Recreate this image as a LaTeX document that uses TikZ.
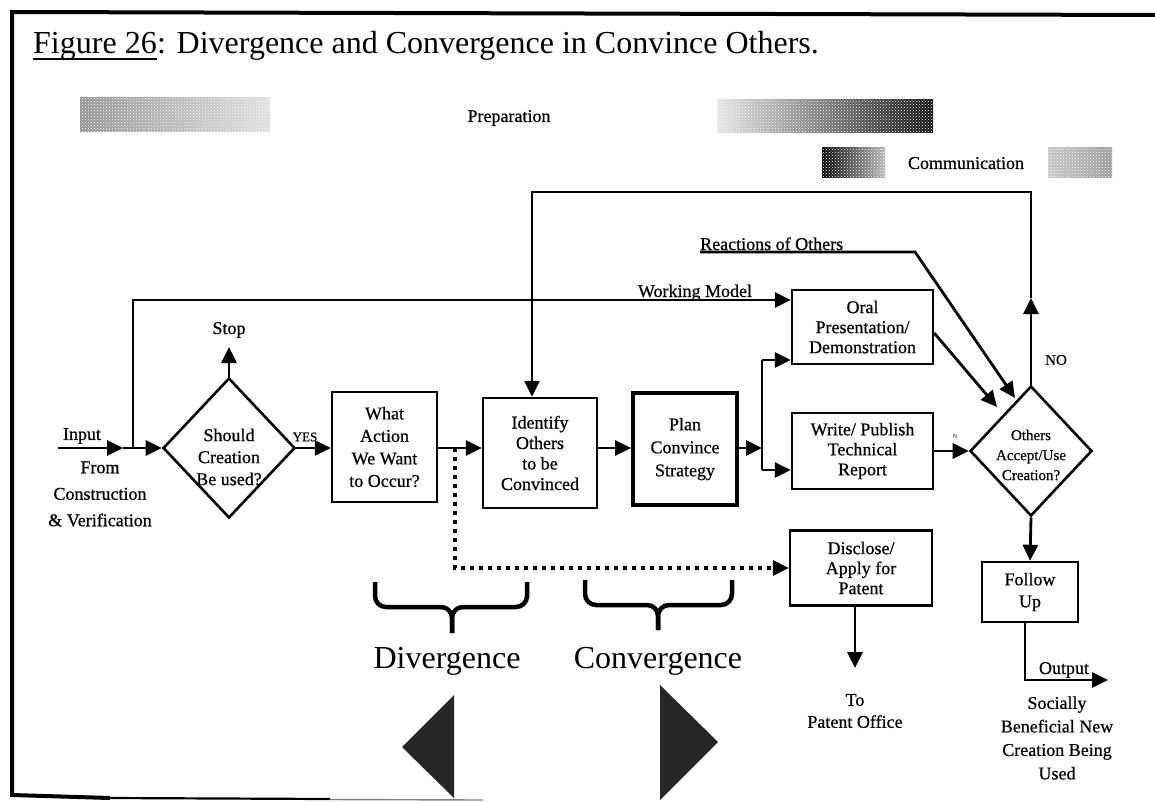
\documentclass[tikz,border=0pt]{standalone}
\usepackage{fontspec}
\setmainfont{Liberation Serif}
\newfontfamily\labelfont[FakeBold=0.6]{Liberation Serif}
\usetikzlibrary{arrows.meta,shapes.geometric,calc,patterns}

\begin{document}
\begin{tikzpicture}[x=1pt,y=-1pt,
  every node/.style={inner sep=0pt},
  txt/.style={font=\labelfont\fontsize{18}{21}\selectfont, align=center},
  small/.style={font=\labelfont\fontsize{15}{20}\selectfont, align=center},
  big/.style={font=\fontsize{32}{38}\selectfont},
  box/.style={draw, line width=2.4pt, align=center, font=\labelfont\fontsize{18}{21}\selectfont},
  dia/.style={draw, diamond, line width=2.6pt},
  conn/.style={line width=2.8pt},
  tip/.style={-{Triangle[length=16pt,width=15pt]}},
  arr/.style={conn, tip},
  dots/.style={line width=3.6pt, dash pattern=on 4pt off 5pt, tip},
  brc/.style={line width=4.5pt, rounded corners=11pt},
  grain/.style={pattern=crosshatch dots, pattern color=white},
]
\useasboundingbox (0,0) rectangle (1155,802);

% frame
\draw[line width=4pt] (1155,15) -- (12,12) -- (12,795) -- (110,798);
\draw[line width=2.2pt] (110,798) -- (330,799);
\draw[line width=1.4pt, gray] (330,799.5) -- (483,800);

% title
\node[big, anchor=base west] (fig) at (33,54) {Figure 26};
\node[big, anchor=base west] (title) at (fig.base east) {: Divergence and Convergence in Convince Others.};
\draw[line width=1.6pt] ([yshift=-5pt]fig.base west) -- ([yshift=-5pt]fig.base east);

% phase bands (dithered grey)
\shade[left color=gray!85, right color=gray!25] (80,98) rectangle (270,132);
\fill[grain] (80,98) rectangle (270,132);
\shade[left color=gray!20, right color=black!95] (717,100) rectangle (933,133);
\fill[grain] (717,100) rectangle (933,133);
\shade[left color=black, right color=gray!55] (822,148) rectangle (885,178);
\fill[grain] (822,148) rectangle (885,178);
\shade[left color=gray!45, right color=gray!80] (1048,148) rectangle (1112,178);
\fill[grain] (1048,148) rectangle (1112,178);
\node[txt, anchor=base] (prep) at (509,122) {Preparation};
\node[txt, anchor=base] (comm) at (966,169) {Communication};

% decision and process nodes
\node[dia, minimum width=132pt, minimum height=140pt] (should) at (229,448) {};
\node[txt, font=\labelfont\fontsize{18}{22}\selectfont] (shouldtxt) at (229,457) {Should\\Creation\\Be used?};
\node[box, font=\labelfont\fontsize{18}{22.5}\selectfont, minimum width=105pt, minimum height=110pt] (what) at (384.5,447) {What\\Action\\We Want\\to Occur?};
\node[box, font=\labelfont\fontsize{18}{20.5}\selectfont, minimum width=114pt, minimum height=110pt] (identify) at (540,453) {Identify\\Others\\to be\\Convinced};
\node[box, line width=4pt, font=\labelfont\fontsize{18}{23}\selectfont, minimum width=104pt, minimum height=112pt] (plan) at (685,449) {Plan\\Convince\\Strategy};
\node[box, font=\labelfont\fontsize{18}{20}\selectfont, minimum width=141pt, minimum height=74pt] (oral) at (862.5,327) {Oral\\Presentation/\\Demonstration};
\node[box, font=\labelfont\fontsize{18}{20}\selectfont, minimum width=141pt, minimum height=76pt] (write) at (862.5,451) {Write/ Publish\\Technical\\Report};
\node[box, font=\labelfont\fontsize{18}{20}\selectfont, minimum width=142pt, minimum height=75pt] (disclose) at (861,568) {Disclose/\\Apply for\\Patent};
\node[dia, minimum width=122pt, minimum height=130pt] (others) at (1031,451) {};
\node[small] (otherstxt) at (1031,455) {Others\\Accept/Use\\Creation?};
\node[box, font=\labelfont\fontsize{18}{22}\selectfont, minimum width=96pt, minimum height=60pt] (follow) at (1030,592) {Follow\\Up};

% labels
\node[txt] (input) at (82,436) {Input};
\node[txt, font=\labelfont\fontsize{18}{26.5}\selectfont] (from) at (100,494) {From\\Construction\\\& Verification};
\node[txt] (stop) at (229,330) {Stop};
\node[font=\labelfont\fontsize{13}{15}\selectfont] (yes) at (305,437) {YES};
\node[txt, anchor=base] (wm) at (695,297) {Working Model};
\node[txt, anchor=base west] (react) at (700,250) {Reactions of Others};
\node[small] (no) at (1056,360) {NO};
\node[font=\fontsize{6}{7}\selectfont] (nmark) at (955,437) {N};
\node[txt, anchor=base] (output) at (1064,674) {Output};
\node[txt, font=\labelfont\fontsize{18}{23.5}\selectfont] (social) at (1057,738) {Socially\\Beneficial New\\Creation Being\\Used};
\node[txt, font=\labelfont\fontsize{18}{22}\selectfont] (topatent) at (855,711) {To\\Patent Office};
\node[big, anchor=base] (div) at (447,668) {Divergence};
\node[big, anchor=base] (conv) at (658,668) {Convergence};

% path points
\coordinate (inStart) at (58,448);
\coordinate (inMid) at (123,448);
\coordinate (branch) at (133,448);
\coordinate (wmCorner) at (133,300);
\coordinate (stopTip) at (229,347);
\coordinate (splitTop) at (762,360);
\coordinate (splitMid) at (762,448);
\coordinate (splitBot) at (762,470);
\coordinate (dotTop) at (455,448);
\coordinate (dotCorner) at (455,568);
\coordinate (noTip) at (1031,298);
\coordinate (fbR) at (1031,192);
\coordinate (fbL) at (532,192);
\coordinate (reactCorner) at (915,252);
\coordinate (reactTip) at (1015,398);
\coordinate (oralTip) at (997,407);
\coordinate (outEnd) at (1108,680);
\coordinate (patTip) at (855,668);

% connectors
\draw[arr] (inStart) -- (inMid);
\draw[arr] (inMid) -- (should.west);
\draw[arr] (branch) -- (wmCorner) -- (wmCorner -| oral.west);
\draw[arr] (should.north) -- (stopTip);
\draw[arr] (should.east) -- (what.west |- should.east);
\draw[arr] (what.east |- should.east) -- (identify.west |- should.east);
\draw[arr] (identify.east |- splitMid) -- (plan.west |- splitMid);
\draw[arr] (plan.east |- splitMid) -- (splitMid);
\draw[conn] (splitTop) -- (splitBot);
\draw[arr] (splitTop) -- (splitTop -| oral.west);
\draw[arr] (splitBot) -- (splitBot -| write.west);
\draw[arr] (write.east) -- (others.west);
\draw[dots] (dotTop) -- (dotCorner) -- (disclose.west);
\draw[arr] ([yshift=-6pt]oral.east) -- (oralTip);
\draw[arr] ([yshift=-2pt]react.base west) -- (reactCorner) -- (reactTip);
\draw[arr] (others.north) -- (noTip);
\draw[arr] (noTip) -- (fbR) -- (fbL) -- (fbL |- identify.north);
\draw[arr] (others.south) -- (follow.north);
\draw[arr] ([xshift=-5pt]follow.south) |- (outEnd);
\draw[arr] ([xshift=-6pt]disclose.south) -- (patTip);

% braces
\draw[brc] (375,582) -- (375,607) -- (452,607) -- (452,633);
\draw[brc] (527,582) -- (527,607) -- (452,607) -- (452,633);
\draw[brc] (585,580) -- (585,605) -- (658,605) -- (658,630);
\draw[brc] (732,580) -- (732,605) -- (658,605) -- (658,630);

% direction markers
\fill[black!85] (454,695) -- (454,798) -- (402,747) -- cycle;
\fill[black!85] (660,685) -- (660,800) -- (718,742) -- cycle;
\end{tikzpicture}
\end{document}
